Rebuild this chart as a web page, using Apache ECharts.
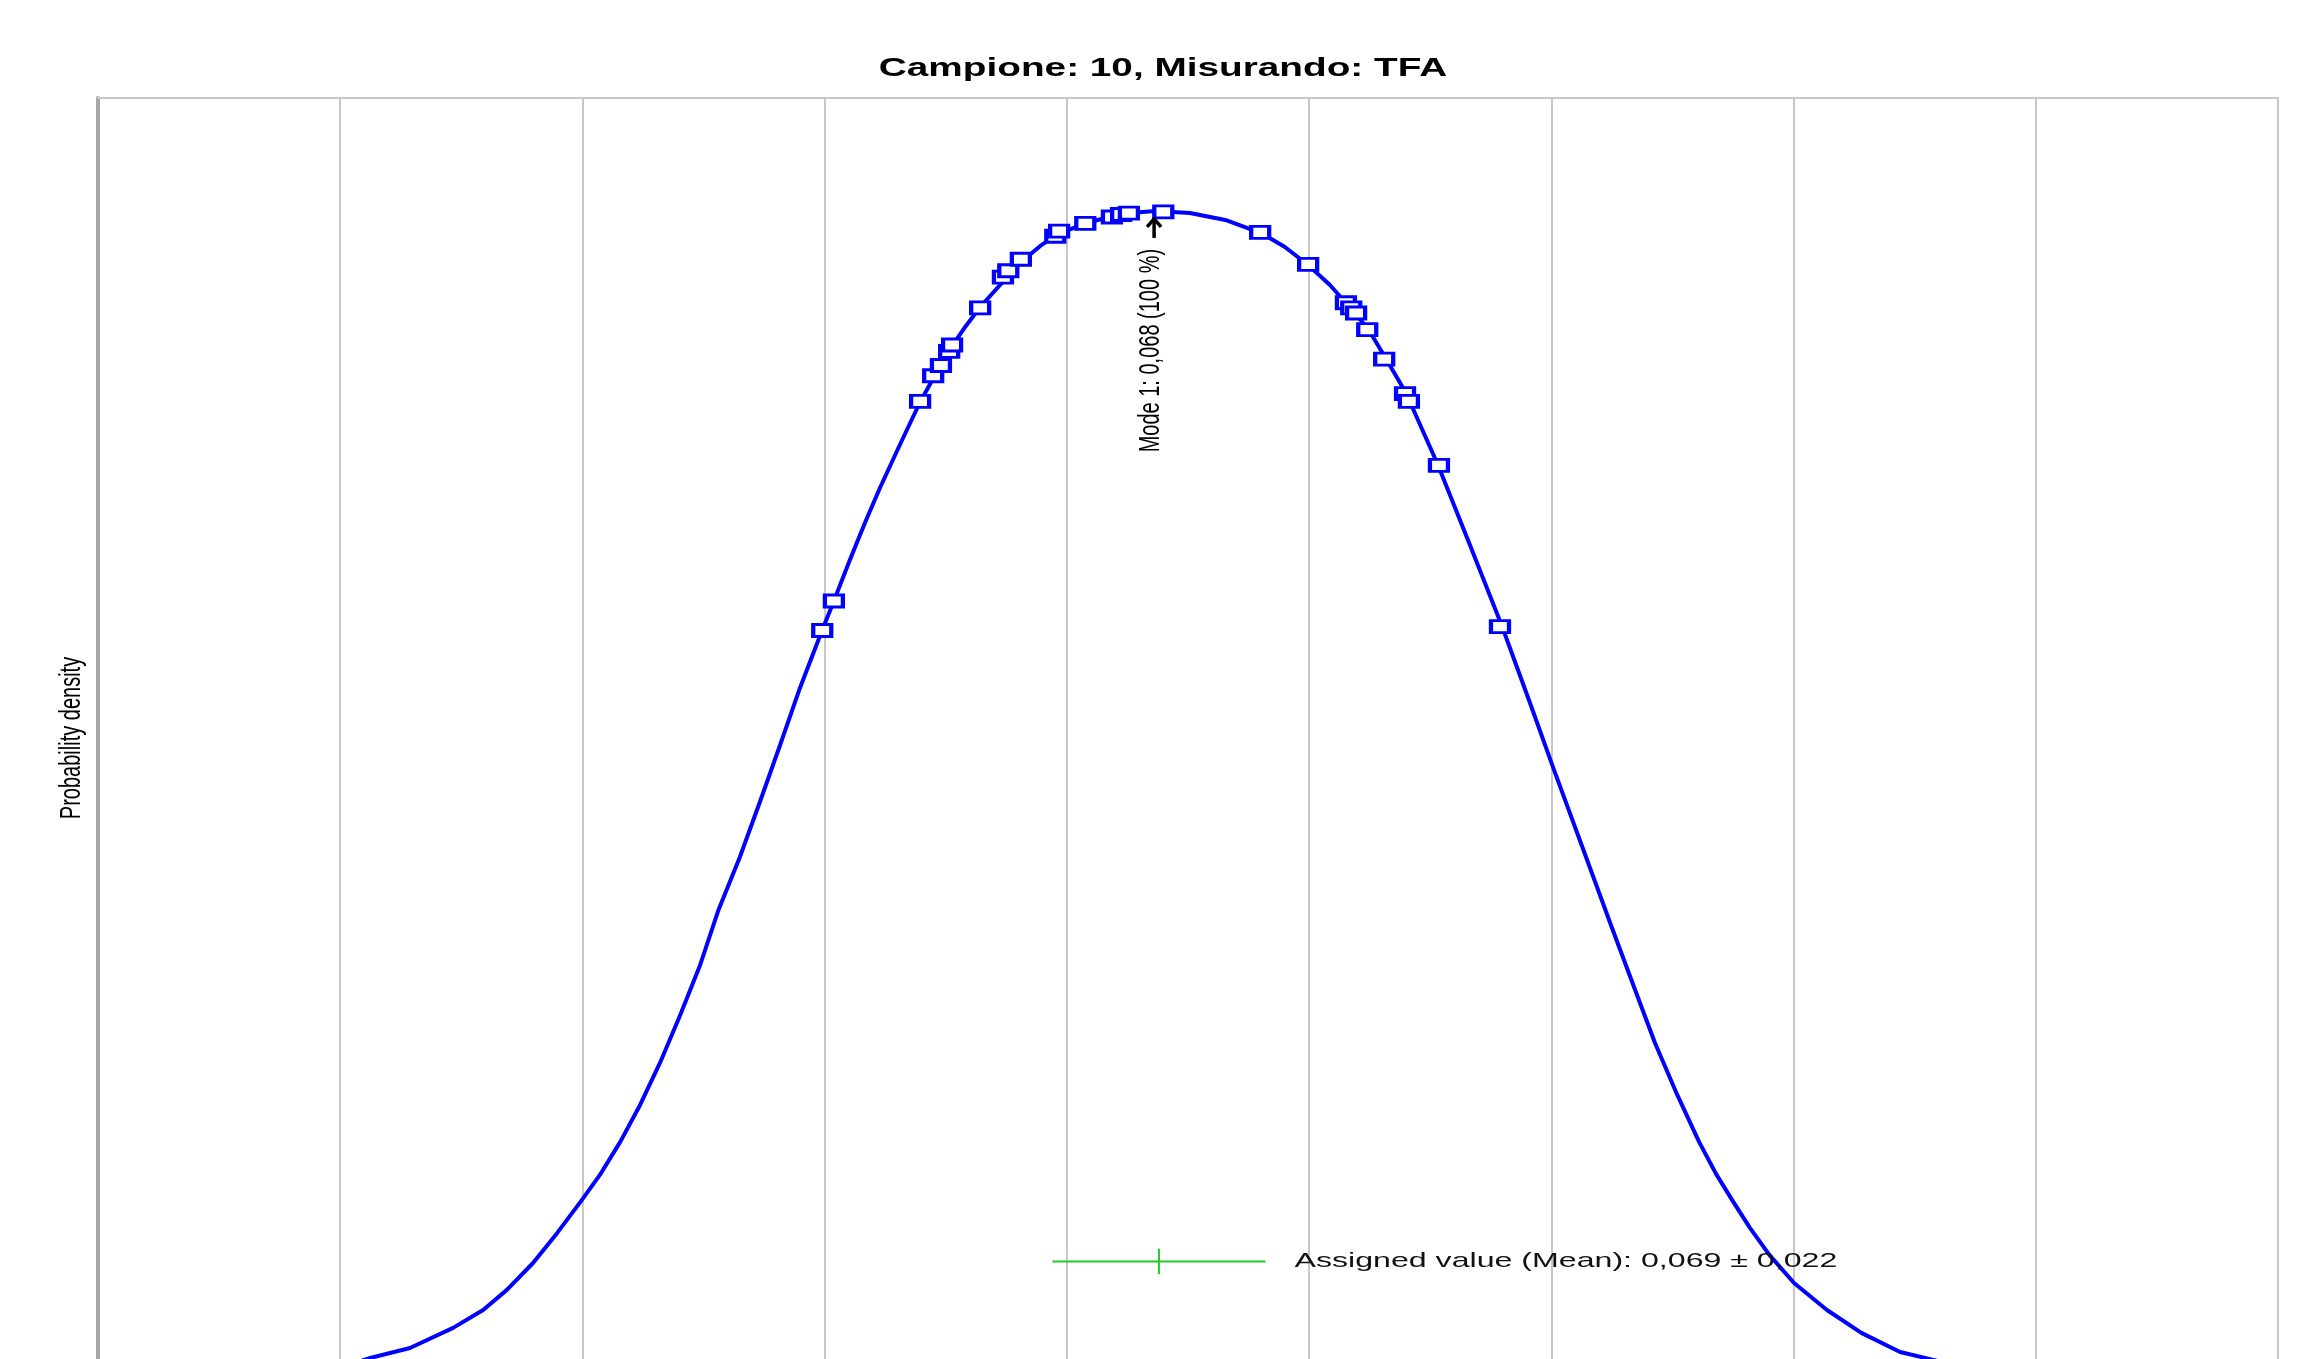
<!DOCTYPE html>
<html>
<head>
<meta charset="utf-8">
<script src="https://cdn.jsdelivr.net/npm/echarts@6/dist/echarts.min.js"></script>
<style>
  html, body { margin: 0; padding: 0; background: #fff; }
  #chart { width: 2297px; height: 1359px; }
</style>
</head>
<body>
<div id="chart"></div>
<script>
// texts
var titleText = 'Campione: 10, Misurando: TFA';
var yName = 'Probability density';
var modeLabel = 'Mode 1: 0,068 (100 %)';
var assignedLabel = 'Assigned value (Mean): 0,069 \u00b1 0,022';

// density curve (x = value, y = relative density)
var curveX = [-0.1021, -0.0938, -0.0856, -0.0767, -0.0705, -0.0656, -0.0602, -0.0552, -0.0501, -0.0464,
              -0.0422, -0.0381, -0.0340, -0.0299, -0.0257, -0.0220, -0.0175, -0.0133, -0.0092, -0.0051,
              -0.0005, 0.0019, 0.0052, 0.0083, 0.0114, 0.0156, 0.0197, 0.0228, 0.0259, 0.0290,
              0.0321, 0.0377, 0.0408, 0.0445, 0.0482, 0.0540, 0.0595, 0.0631, 0.0682, 0.0754,
              0.0827, 0.0901, 0.0950, 0.0998, 0.1043, 0.1085, 0.1122, 0.1159, 0.1200, 0.1233,
              0.1266, 0.1332, 0.1398, 0.1456, 0.1504, 0.1564, 0.1623, 0.1673, 0.1714, 0.1760,
              0.1805, 0.1840, 0.1873, 0.1910, 0.1950, 0.2001, 0.2069, 0.2140, 0.2220, 0.2297,
              0.2385];
var curveY = [0.55, 1.56, 2.34, 3.91, 5.31, 6.88, 8.98, 11.33, 13.91, 15.86,
              18.44, 21.33, 24.61, 28.28, 32.27, 36.48, 40.70, 45.08, 49.45, 53.91,
              58.44, 60.70, 63.91, 66.80, 69.53, 72.97, 76.25, 78.36, 80.39, 82.11,
              83.67, 86.02, 87.27, 88.44, 89.38, 90.23, 90.78, 91.02, 91.17, 91.02,
              90.47, 89.45, 88.36, 86.95, 85.39, 83.59, 81.95, 79.61, 76.95, 74.14,
              71.33, 65.08, 58.75, 52.73, 47.66, 41.48, 35.39, 30.31, 26.17, 22.11,
              18.44, 15.94, 13.91, 11.72, 9.61, 7.42, 5.31, 3.52, 2.03, 1.33,
              0.70];

// lab results (squares on the curve)
var sampleX = [-0.0005, 0.0019, 0.0197, 0.0224, 0.0240, 0.0257, 0.0263, 0.0321, 0.0368, 0.0379,
               0.0405, 0.0476, 0.0484, 0.0538, 0.0593, 0.0612, 0.0628, 0.0699, 0.0899, 0.0998,
               0.1076, 0.1087, 0.1097, 0.1120, 0.1155, 0.1198, 0.1206, 0.1268, 0.1394];
var sampleY = [58.4, 60.7, 76.3, 78.3, 79.1, 80.2, 80.7, 83.6, 86.0, 86.5,
               87.4, 89.2, 89.6, 90.2, 90.7, 90.9, 91.0, 91.1, 89.5, 87.0,
               84.0, 83.6, 83.2, 81.9, 79.6, 76.9, 76.3, 71.3, 58.7];

var modeX = 0.068, modeY = 91.1;
var assignedValue = 0.069, assignedUnc = 0.022, assignedLevel = 9.1;

var font = '"Liberation Sans", Arial, sans-serif';

var curve = curveX.map(function (x, i) { return [x, curveY[i]]; });
var samples = sampleX.map(function (x, i) { return [x, sampleY[i]]; });

var chart = echarts.init(document.getElementById('chart'));

chart.setOption({
    backgroundColor: '#fff',
    animation: false,
    grid: { left: 98, right: 19, top: 98, bottom: 0, show: false },
    xAxis: {
        type: 'value', min: -0.15, max: 0.30, interval: 0.05, position: 'top',
        axisLine: { show: true, onZero: false, lineStyle: { color: '#c8c8c8', width: 2 } },
        axisTick: { show: false }, axisLabel: { show: false },
        splitLine: { show: true, lineStyle: { color: '#c8c8c8', width: 2 } }
    },
    // bottom of the plot sits just below the picture edge
    yAxis: {
        type: 'value', min: 1.48, max: 100,
        axisLine: { show: true, onZero: false, lineStyle: { color: '#a6a6a6', width: 4 } },
        axisTick: { show: false }, axisLabel: { show: false }, splitLine: { show: false }
    },
    series: [
        {
            type: 'line', data: curve, smooth: false, showSymbol: false,
            lineStyle: { color: '#0000ff', width: 4, join: 'round' }, z: 2
        },
        {
            type: 'scatter', data: samples, symbol: 'rect', symbolSize: [18, 12],
            itemStyle: { color: '#fff', borderColor: '#0000ff', borderWidth: 3.5, opacity: 1 }, z: 3
        },
        {
            type: 'line', showSymbol: false,
            data: [[assignedValue - assignedUnc, assignedLevel], [assignedValue + assignedUnc, assignedLevel]],
            lineStyle: { color: '#22cc22', width: 2 }, z: 4
        },
        {
            type: 'line', showSymbol: false,
            data: [[assignedValue, assignedLevel - 1], [assignedValue, assignedLevel + 1]],
            lineStyle: { color: '#22cc22', width: 2 }, z: 4
        }
    ]
});

// annotations, placed from the axes
var pm = chart.convertToPixel({ gridIndex: 0 }, [modeX, modeY]);
var pa = chart.convertToPixel({ gridIndex: 0 }, [assignedValue + assignedUnc, assignedLevel]);

chart.setOption({
    graphic: [
        {
            type: 'text', x: 1163, y: 69, scaleX: 1.55,
            style: { text: titleText, fontSize: 25, fontWeight: 'bold', fontFamily: font, fill: '#000',
                     align: 'center', textAlign: 'center', verticalAlign: 'middle', textVerticalAlign: 'middle' }
        },
        {
            type: 'text', x: 72, y: 738, rotation: Math.PI / 2, scaleY: 1.45,
            style: { text: yName, fontSize: 20, fontFamily: font, fill: '#000',
                     align: 'center', textAlign: 'center', verticalAlign: 'middle', textVerticalAlign: 'middle' }
        },
        {
            type: 'text', x: pm[0] - 3, y: pm[1] + 37, rotation: Math.PI / 2, scaleY: 1.5,
            style: { text: modeLabel, fontSize: 20, fontFamily: font, fill: '#000',
                     align: 'right', textAlign: 'right', verticalAlign: 'middle', textVerticalAlign: 'middle' }
        },
        {
            type: 'polyline', z: 10,
            shape: { points: [[pm[0], pm[1] + 8], [pm[0], pm[1] + 26]] },
            style: { stroke: '#000', lineWidth: 3.5, fill: null }
        },
        {
            type: 'polyline', z: 10,
            shape: { points: [[pm[0] - 7, pm[1] + 15], [pm[0], pm[1] + 7], [pm[0] + 7, pm[1] + 15]] },
            style: { stroke: '#000', lineWidth: 3.5, fill: null }
        },
        {
            type: 'text', x: pa[0] + 29, y: pa[1], scaleX: 1.53, z: 10,
            style: { text: assignedLabel, fontSize: 21, fontFamily: font, fill: '#111',
                     align: 'left', textAlign: 'left', verticalAlign: 'middle', textVerticalAlign: 'middle' }
        }
    ]
});
</script>
</body>
</html>
